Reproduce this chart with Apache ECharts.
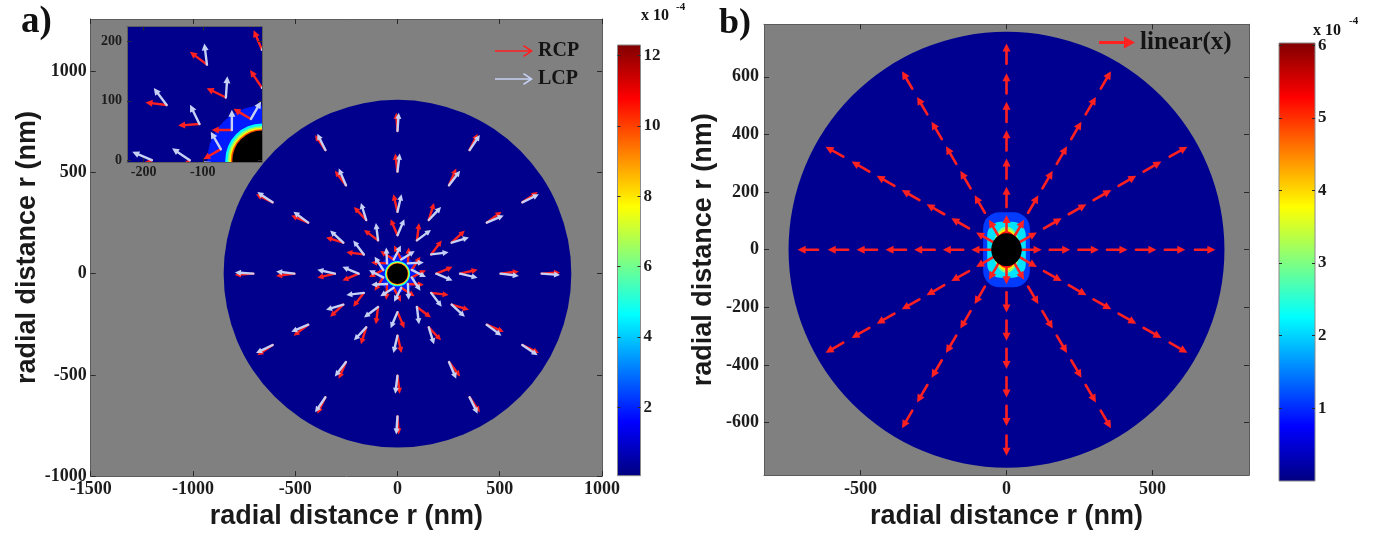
<!DOCTYPE html>
<html>
<head>
<meta charset="utf-8">
<title>Near-field maps</title>
<script src="https://cdn.jsdelivr.net/npm/echarts@6/dist/echarts.min.js"></script>
<style>
html,body{margin:0;padding:0;background:#ffffff;}
#chart{width:1391px;height:535px;}
</style>
</head>
<body>
<div id="chart"></div>
<script>
// ---------------- data ----------------
// tick labels
const aXTicks = [-1500, -1000, -500, 0, 500, 1000];
const aYTicks = [-1000, -500, 0, 500, 1000];
const insetXTicks = [-200, -100];
const insetYTicks = [0, 100, 200];
const aCbTicks = [2, 4, 6, 8, 10, 12];
const bXTicks = [-500, 0, 500];
const bYTicks = [-600, -400, -200, 0, 200, 400, 600];
const bCbTicks = [1, 2, 3, 4, 5, 6];

// colour-bar ranges (x 10^-4)
const aCbRange = [0.05, 12.3];
const bCbRange = [0, 6.03];

// particle centre (nm)
const particleCenter = [0, 0];

// simulation domain: radius (nm), background value (x 10^-4)
const aDisc = [850, 0.2];
const bDisc = [746, 0.1];

// panel a: near-field rings around the particle
const aRingRadius = [92, 62, 58, 55, 52.5];
const aRingValue  = [1.9, 4.6, 6.3, 7.8, 9.8];
const aCoreRadius = [50];

// panel b: near-field lobes around the particle (half width, half height in nm)
const bLobeHalfW = [80, 66, 46, 42, 39];
const bLobeHalfH = [130, 97, 80, 72, 64];
const bLobeValue = [1.1, 2.1, 3.0, 3.9, 5.2];
const bLobeKind  = ['capsule', 'capsule', 'ellipse', 'ellipse', 'ellipse'];
const bCoreHalf  = [52, 57];

// panel a: polarisation arrows (RCP red, LCP white)
const aSpokeAngles = [0, 30, 60, 90, 120, 150, 180, 210, 240, 270, 300, 330];
const aArrowRing   = [72, 190, 306, 504, 705];      // tail radius, nm (main panel)
const aRingOffset  = [15, 0, 0, 0, 0];              // deg
const aRingTwist   = [42, 23, 13, 7, 4];            // deg, RCP +, LCP -
const aArrowLen    = [78, 86, 88, 90, 90];          // nm
// inset (finer sampling near the particle)
const insetArrowRing  = [72, 122, 186];
const insetRingOffset = [15, 0, 0];
const insetRingTwist  = [45, 34, 23];
const insetArrowLen   = [34, 36, 36];

// panel b: linear(x) arrows
const bSpokeAngles = [0, 30, 60, 90, 120, 150, 180, 210, 240, 270, 300, 330];
const bArrowTail   = [54, 148, 246, 344, 443, 542, 645];
const bArrowLen    = [66, 70, 70, 70, 70, 70, 70];

// ---------------- helpers ----------------
const serif = "'Liberation Serif','Times New Roman',serif";
const sans = "'Liberation Sans',Arial,sans-serif";

function jet(t) {
  t = Math.max(0, Math.min(1, t));
  const c = x => Math.round(255 * Math.max(0, Math.min(1, x)));
  return 'rgb(' + c(Math.min(4 * t - 1.5, -4 * t + 4.5)) + ',' +
    c(Math.min(4 * t - 0.5, -4 * t + 3.5)) + ',' +
    c(Math.min(4 * t + 0.5, -4 * t + 2.5)) + ')';
}
function jetv(v, range) { return jet((v - range[0]) / (range[1] - range[0])); }

function ringArrows(rings, offsets, twists, lens, sign) {
  const out = [];
  rings.forEach((r, k) => {
    aSpokeAngles.forEach(a => {
      const th = a + offsets[k];
      const rad = th * Math.PI / 180;
      out.push([particleCenter[0] + r * Math.cos(rad), particleCenter[1] + r * Math.sin(rad), th + sign * twists[k], lens[k]]);
    });
  });
  return out;
}
function spokeArrows() {
  const out = [];
  bSpokeAngles.forEach(a => {
    const rad = a * Math.PI / 180;
    bArrowTail.forEach((r, k) => out.push([particleCenter[0] + r * Math.cos(rad), particleCenter[1] + r * Math.sin(rad), a, bArrowLen[k]]));
  });
  return out;
}

function arrowRender(lw, headL, headW) {
  return function (params, api) {
    const x0 = api.value(0), y0 = api.value(1);
    const d = api.value(2) * Math.PI / 180, len = api.value(3);
    const p0 = api.coord([x0, y0]);
    const p1 = api.coord([x0 + len * Math.cos(d), y0 + len * Math.sin(d)]);
    const dx = p1[0] - p0[0], dy = p1[1] - p0[1];
    const L = Math.hypot(dx, dy) || 1;
    const ux = dx / L, uy = dy / L;
    const hl = Math.min(headL, L * 0.45);
    const bx = p1[0] - ux * hl, by = p1[1] - uy * hl;
    const nx = -uy * headW, ny = ux * headW;
    const color = api.visual('color');
    return {
      type: 'group', children: [
        { type: 'line', shape: { x1: p0[0], y1: p0[1], x2: bx + ux, y2: by + uy }, style: { stroke: color, lineWidth: lw, lineCap: 'round' } },
        { type: 'polygon', shape: { points: [[p1[0], p1[1]], [bx + nx, by + ny], [bx - nx, by - ny]] }, style: { fill: color } }
      ]
    };
  };
}
function roundRender(range, fixedFill) {
  return function (params, api) {
    const c = api.coord([api.value(0), api.value(1)]);
    const r = api.size([api.value(2), api.value(2)])[0];
    return { type: 'circle', shape: { cx: c[0], cy: c[1], r: r }, style: { fill: fixedFill || jetv(api.value(3), range) } };
  };
}
function lobeRender(range, fixedFill) {
  return function (params, api) {
    const c = api.coord([api.value(0), api.value(1)]);
    const s = api.size([api.value(2), api.value(3)]);
    const fill = fixedFill || jetv(api.value(4), range);
    if (!fixedFill && bLobeKind[params.dataIndex] === 'capsule') {
      return { type: 'rect', shape: { x: c[0] - s[0], y: c[1] - s[1], width: 2 * s[0], height: 2 * s[1], r: s[0] * 0.7 }, style: { fill: fill } };
    }
    const pts = [];
    for (let i = 0; i < 72; i++) { const t = i / 72 * 2 * Math.PI; pts.push([c[0] + s[0] * Math.cos(t), c[1] + s[1] * Math.sin(t)]); }
    return { type: 'polygon', shape: { points: pts }, style: { fill: fill } };
  };
}
function cbRender() {
  return function (params, api) {
    const p0 = api.coord([api.value(0), api.value(3)]);
    const p1 = api.coord([api.value(2), api.value(1)]);
    const stops = [];
    for (let i = 0; i <= 40; i++) stops.push({ offset: i / 40, color: jet(i / 40) });
    return {
      type: 'rect', shape: { x: p0[0], y: p0[1], width: p1[0] - p0[0], height: p1[1] - p0[1] },
      style: { fill: new echarts.graphic.LinearGradient(0, 1, 0, 0, stops), stroke: '#8a8a8a', lineWidth: 1 }
    };
  };
}

function axis(extra) {
  const base = {
    type: 'value', splitLine: { show: false }, z: 10,
    axisLine: { show: true, onZero: false, lineStyle: { color: '#5c5c5c', width: 1 } },
    axisTick: { show: true, inside: true, length: 5, lineStyle: { color: '#2a2a2a', width: 1 } },
    axisLabel: { show: true, fontFamily: serif, fontWeight: 'bold', fontSize: 18, color: '#1c1c1c', margin: 5, formatter: v => String(v) }
  };
  const out = Object.assign({}, base, extra);
  ['axisLine', 'axisTick', 'axisLabel'].forEach(k => { if (extra[k]) out[k] = Object.assign({}, base[k], extra[k]); });
  return out;
}
const titleStyle = { fontFamily: sans, fontWeight: 'bold', fontSize: 27, color: '#1a1a1a' };

const chart = echarts.init(document.getElementById('chart'));
const cx = particleCenter[0], cy = particleCenter[1];

const option = {
  animation: false,
  backgroundColor: '#ffffff',
  grid: [
    { left: 90.7, top: 19, width: 511.3, height: 461.7, show: true, backgroundColor: '#808080', borderWidth: 0 },
    { left: 127, top: 26.7, width: 135, height: 135.3, show: false },
    { left: 617.5, top: 45, width: 23, height: 430.7, show: false },
    { left: 764, top: 24.3, width: 485, height: 456.7, show: true, backgroundColor: '#808080', borderWidth: 0 },
    { left: 1279, top: 43, width: 36, height: 438, show: false }
  ],
  xAxis: [
    axis({ gridIndex: 0, min: -1500, max: 1000, position: 'bottom',
      axisTick: { customValues: aXTicks }, axisLabel: { customValues: aXTicks, margin: 4 },
      name: 'radial distance r (nm)', nameLocation: 'middle', nameGap: 20, nameTextStyle: titleStyle }),
    axis({ gridIndex: 0, min: -1500, max: 1000, position: 'top', axisTick: { customValues: aXTicks }, axisLabel: { show: false } }),
    axis({ gridIndex: 1, min: -228, max: 0, position: 'bottom', z: 12,
      axisTick: { customValues: insetXTicks, length: 4 }, axisLabel: { customValues: insetXTicks, fontSize: 14, margin: 3 } }),
    axis({ gridIndex: 1, min: -228, max: 0, position: 'top', z: 12, axisTick: { customValues: insetXTicks, length: 4 }, axisLabel: { show: false } }),
    { type: 'value', gridIndex: 2, min: 0, max: 1, show: false },
    axis({ gridIndex: 3, min: -830, max: 830, position: 'bottom',
      axisTick: { customValues: bXTicks }, axisLabel: { customValues: bXTicks, margin: 5 },
      name: 'radial distance r (nm)', nameLocation: 'middle', nameGap: 24, nameTextStyle: titleStyle }),
    axis({ gridIndex: 3, min: -830, max: 830, position: 'top', axisTick: { customValues: bXTicks }, axisLabel: { show: false } }),
    { type: 'value', gridIndex: 4, min: 0, max: 1, show: false }
  ],
  yAxis: [
    axis({ gridIndex: 0, min: -1000, max: 1258, position: 'left',
      axisTick: { customValues: aYTicks }, axisLabel: { customValues: aYTicks, margin: 4 },
      name: 'radial distance r (nm)', nameLocation: 'middle', nameGap: 50, nameTextStyle: titleStyle }),
    axis({ gridIndex: 0, min: -1000, max: 1258, position: 'right', axisTick: { customValues: aYTicks }, axisLabel: { show: false } }),
    axis({ gridIndex: 1, min: -3, max: 225, position: 'left', z: 12,
      axisTick: { customValues: insetYTicks, length: 4 }, axisLabel: { customValues: insetYTicks, fontSize: 14, margin: 5 } }),
    axis({ gridIndex: 1, min: -3, max: 225, position: 'right', z: 12, axisTick: { customValues: insetYTicks, length: 4 }, axisLabel: { show: false } }),
    axis({ gridIndex: 2, min: aCbRange[0], max: aCbRange[1], position: 'right',
      axisLine: { show: false }, axisTick: { customValues: aCbTicks, length: 3 }, axisLabel: { customValues: aCbTicks, fontSize: 17, margin: 3 } }),
    axis({ gridIndex: 2, min: aCbRange[0], max: aCbRange[1], position: 'left',
      axisLine: { show: false }, axisTick: { customValues: aCbTicks, length: 3 }, axisLabel: { show: false } }),
    axis({ gridIndex: 3, min: -782, max: 782, position: 'left',
      axisTick: { customValues: bYTicks }, axisLabel: { customValues: bYTicks, margin: 5 },
      name: 'radial distance r (nm)', nameLocation: 'middle', nameGap: 47, nameTextStyle: titleStyle }),
    axis({ gridIndex: 3, min: -782, max: 782, position: 'right', axisTick: { customValues: bYTicks }, axisLabel: { show: false } }),
    axis({ gridIndex: 4, min: bCbRange[0], max: bCbRange[1], position: 'right',
      axisLine: { show: false }, axisTick: { customValues: bCbTicks, length: 3 }, axisLabel: { customValues: bCbTicks, fontSize: 17, margin: 3 } }),
    axis({ gridIndex: 4, min: bCbRange[0], max: bCbRange[1], position: 'left',
      axisLine: { show: false }, axisTick: { customValues: bCbTicks, length: 3 }, axisLabel: { show: false } })
  ],
  legend: [
    {
      data: [{ name: 'RCP', itemStyle: { color: '#ff2020' } }, { name: 'LCP', itemStyle: { color: '#c6d0f4' } }],
      orient: 'vertical', left: 495, top: 41, padding: 0, itemGap: 8, itemWidth: 38, itemHeight: 12,
      icon: 'path://M0,5.2L34,5.2L28,1.2L29,0L38,6L29,12L28,10.8L34,6.8L0,6.8Z', selectedMode: false,
      textStyle: { fontFamily: serif, fontWeight: 'bold', fontSize: 20, color: '#141414' }
    },
    {
      data: [{ name: 'linear(x)', itemStyle: { color: '#ff2020' } }],
      left: 1099, top: 30, padding: 0, itemWidth: 36, itemHeight: 14,
      icon: 'path://M0,5.5L25,5.5L25,1L36,7L25,13L25,8.5L0,8.5Z', selectedMode: false,
      textStyle: { fontFamily: serif, fontWeight: 'bold', fontSize: 25, color: '#141414' }
    }
  ],
  graphic: [
    { type: 'text', left: 21, top: 4, style: { text: 'a)', font: 'bold 37px ' + serif, fill: '#111' } },
    { type: 'text', left: 719, top: 6, style: { text: 'b)', font: 'bold 36px ' + serif, fill: '#111' } },
    { type: 'text', left: 641, top: 8, style: { text: 'x 10', font: 'bold 16px ' + serif, fill: '#151515' } },
    { type: 'text', left: 676, top: 2, style: { text: '-4', font: 'bold 11px ' + serif, fill: '#151515' } },
    { type: 'text', left: 1313, top: 23, style: { text: 'x 10', font: 'bold 16px ' + serif, fill: '#151515' } },
    { type: 'text', left: 1349, top: 16, style: { text: '-4', font: 'bold 11px ' + serif, fill: '#151515' } }
  ],
  series: [
    // ---- panel a main ----
    { type: 'custom', name: 'domain a', xAxisIndex: 0, yAxisIndex: 0, z: 1, silent: true, clip: true,
      data: [[cx, cy, aDisc[0], aDisc[1]]], renderItem: roundRender(aCbRange) },
    { type: 'custom', name: 'field a', xAxisIndex: 0, yAxisIndex: 0, z: 1, silent: true, clip: true,
      data: aRingRadius.map((r, i) => [cx, cy, r, aRingValue[i]]), renderItem: roundRender(aCbRange) },
    { type: 'custom', name: 'RCP', xAxisIndex: 0, yAxisIndex: 0, z: 2, silent: true, clip: true,
      itemStyle: { color: '#ff2020' }, data: ringArrows(aArrowRing, aRingOffset, aRingTwist, aArrowLen, 1), renderItem: arrowRender(2.4, 6, 3) },
    { type: 'custom', name: 'LCP', xAxisIndex: 0, yAxisIndex: 0, z: 3, silent: true, clip: true,
      itemStyle: { color: '#c6d0f4' }, data: ringArrows(aArrowRing, aRingOffset, aRingTwist, aArrowLen, -1), renderItem: arrowRender(2.4, 6, 3) },
    { type: 'custom', name: 'particle a', xAxisIndex: 0, yAxisIndex: 0, z: 4, silent: true, clip: true,
      data: aCoreRadius.map(r => [cx, cy, r, 0]), renderItem: roundRender(aCbRange, '#000000') },
    // ---- panel a inset ----
    { type: 'custom', name: 'domain inset', xAxisIndex: 2, yAxisIndex: 2, z: 5, silent: true, clip: true,
      data: [[cx, cy, aDisc[0], aDisc[1]]], renderItem: roundRender(aCbRange) },
    { type: 'custom', name: 'field inset', xAxisIndex: 2, yAxisIndex: 2, z: 5, silent: true, clip: true,
      data: aRingRadius.map((r, i) => [cx, cy, r, aRingValue[i]]), renderItem: roundRender(aCbRange) },
    { type: 'custom', name: 'RCP', xAxisIndex: 2, yAxisIndex: 2, z: 6, silent: true, clip: true,
      itemStyle: { color: '#ff2020' }, data: ringArrows(insetArrowRing, insetRingOffset, insetRingTwist, insetArrowLen, 1), renderItem: arrowRender(2.4, 7, 3.5) },
    { type: 'custom', name: 'LCP', xAxisIndex: 2, yAxisIndex: 2, z: 7, silent: true, clip: true,
      itemStyle: { color: '#c6d0f4' }, data: ringArrows(insetArrowRing, insetRingOffset, insetRingTwist, insetArrowLen, -1), renderItem: arrowRender(2.4, 7, 3.5) },
    { type: 'custom', name: 'particle inset', xAxisIndex: 2, yAxisIndex: 2, z: 8, silent: true, clip: true,
      data: aCoreRadius.map(r => [cx, cy, r, 0]), renderItem: roundRender(aCbRange, '#000000') },
    // ---- colour bar a ----
    { type: 'custom', name: 'colorbar a', xAxisIndex: 4, yAxisIndex: 4, z: 2, silent: true,
      data: [[0, aCbRange[0], 1, aCbRange[1]]], renderItem: cbRender() },
    // ---- panel b ----
    { type: 'custom', name: 'domain b', xAxisIndex: 5, yAxisIndex: 6, z: 1, silent: true, clip: true,
      data: [[cx, cy, bDisc[0], bDisc[1]]], renderItem: roundRender(bCbRange) },
    { type: 'custom', name: 'field b', xAxisIndex: 5, yAxisIndex: 6, z: 1, silent: true, clip: true,
      data: bLobeHalfW.map((w, i) => [cx, cy, w, bLobeHalfH[i], bLobeValue[i]]), renderItem: lobeRender(bCbRange) },
    { type: 'custom', name: 'linear(x)', xAxisIndex: 5, yAxisIndex: 6, z: 2, silent: true, clip: true,
      itemStyle: { color: '#ff2020' }, data: spokeArrows(), renderItem: arrowRender(2.6, 8, 4) },
    { type: 'custom', name: 'particle b', xAxisIndex: 5, yAxisIndex: 6, z: 3, silent: true, clip: true,
      data: [[cx, cy, bCoreHalf[0], bCoreHalf[1], 0]], renderItem: lobeRender(bCbRange, '#000000') },
    // ---- colour bar b ----
    { type: 'custom', name: 'colorbar b', xAxisIndex: 7, yAxisIndex: 8, z: 2, silent: true,
      data: [[0, bCbRange[0], 1, bCbRange[1]]], renderItem: cbRender() }
  ]
};
chart.setOption(option);
</script>
</body>
</html>
